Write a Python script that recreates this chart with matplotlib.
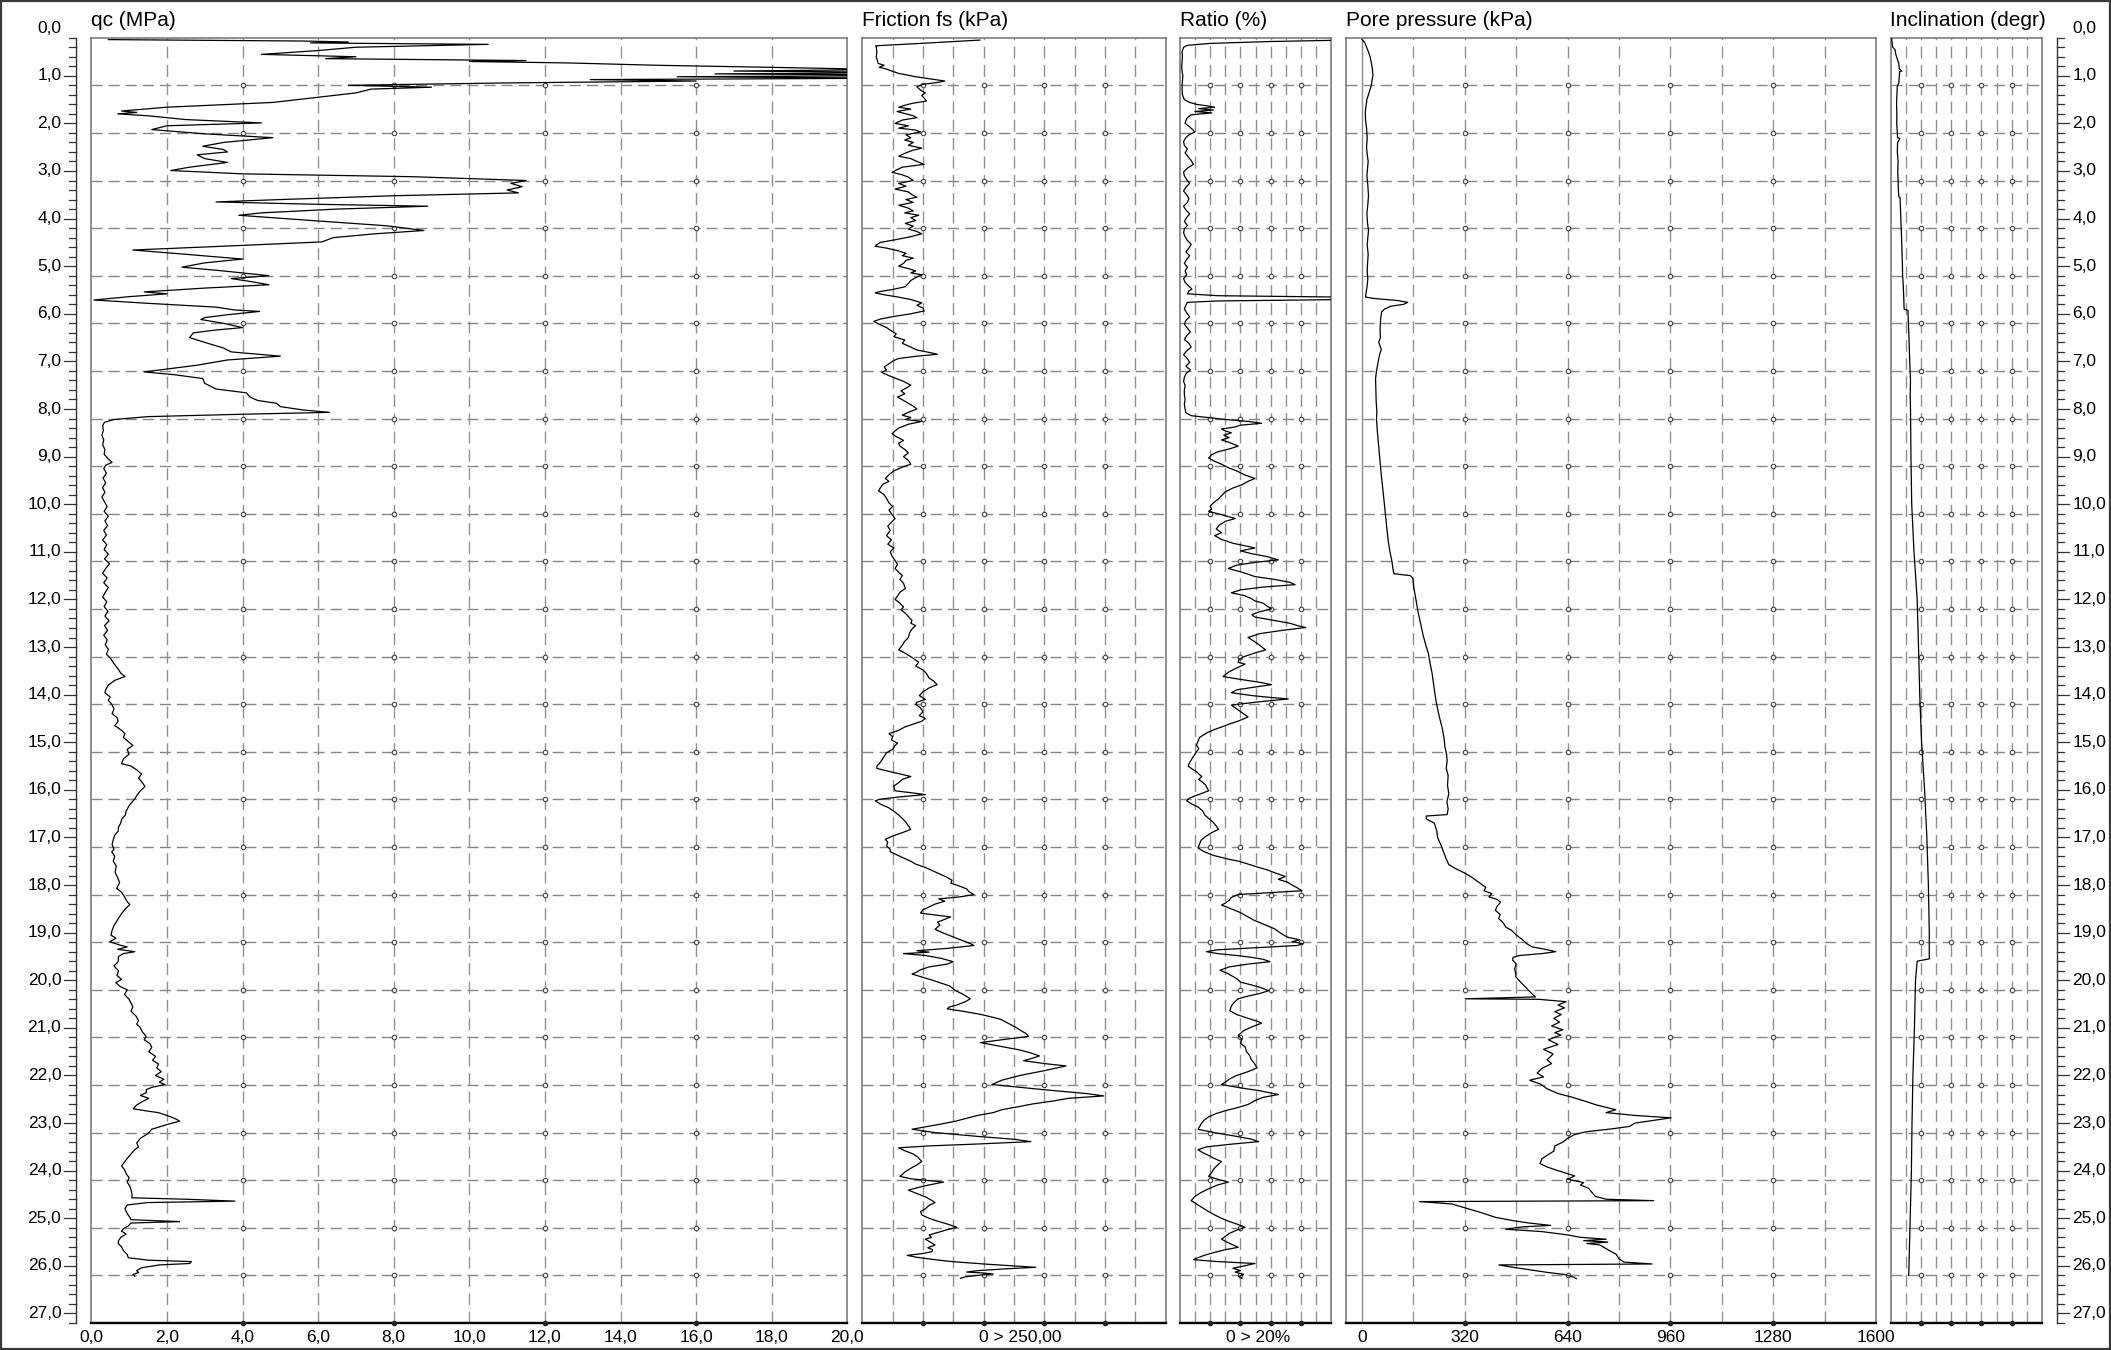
import numpy as np
import matplotlib
matplotlib.use("Agg")
import matplotlib.pyplot as plt
from matplotlib.patches import Rectangle

plt.rcParams['font.family'] = ['Liberation Sans', 'DejaVu Sans']

# ---------------------------------------------------------------- data
# Cone resistance qc (MPa) against depth (m)
qc_depth = [0.24, 0.27, 0.29, 0.31, 0.34, 0.40, 0.47, 0.55, 0.60, 0.64, 0.68, 0.70, 0.73, 0.78,
            0.83, 0.87, 0.90, 0.93, 0.96, 0.99, 1.02, 1.05, 1.08, 1.11, 1.15, 1.20, 1.24, 1.28,
            1.36, 1.45, 1.56, 1.66, 1.74, 1.77, 1.80, 1.84, 1.92, 1.99, 2.05, 2.13, 2.22, 2.30,
            2.40, 2.48, 2.55, 2.60, 2.66, 2.74, 2.82, 2.92, 2.99, 3.06, 3.12, 3.20, 3.26, 3.33,
            3.40, 3.46, 3.52, 3.60, 3.65, 3.70, 3.74, 3.80, 3.88, 3.93, 4.05, 4.15, 4.25, 4.32,
            4.40, 4.49, 4.58, 4.66, 4.75, 4.85, 4.93, 5.02, 5.10, 5.20, 5.26, 5.32, 5.39, 5.46,
            5.54, 5.58, 5.64, 5.71, 5.78, 5.86, 5.92, 5.95, 6.02, 6.08, 6.12, 6.20, 6.29, 6.34,
            6.40, 6.50, 6.60, 6.72, 6.80, 6.89, 6.97, 7.08, 7.22, 7.28, 7.36, 7.46, 7.58, 7.66,
            7.75, 7.82, 7.88, 7.95, 8.02, 8.07, 8.11, 8.16, 8.22, 8.28,
            8.35, 8.45, 8.55, 8.65, 8.75, 8.85, 8.95, 9.05, 9.12, 9.18, 9.25, 9.35, 9.45, 9.55,
            9.65, 9.75, 9.85, 9.95, 10.05, 10.15, 10.25, 10.35, 10.45, 10.55, 10.65, 10.75,
            10.85, 10.95, 11.05, 11.15, 11.25, 11.35, 11.45, 11.55, 11.65, 11.75, 11.85, 11.95,
            12.05, 12.15, 12.25, 12.35, 12.45, 12.55, 12.65, 12.75, 12.85, 12.95, 13.05, 13.15,
            13.25, 13.35, 13.45, 13.55, 13.62, 13.70, 13.80, 13.90, 13.96, 14.05, 14.12, 14.20,
            14.30, 14.40, 14.48, 14.56, 14.65, 14.75, 14.82, 14.90, 15.00, 15.07, 15.15, 15.25,
            15.35, 15.45, 15.50, 15.58, 15.67, 15.75, 15.85, 15.93, 16.02, 16.10, 16.19, 16.28,
            16.36, 16.45, 16.53, 16.62, 16.70, 16.78, 16.87, 16.95, 17.05, 17.15, 17.25, 17.30,
            17.40, 17.50, 17.60, 17.73, 17.85, 17.95, 18.07, 18.15, 18.25, 18.35, 18.41, 18.50,
            18.60, 18.70, 18.76, 18.85, 18.95, 19.05, 19.12, 19.19, 19.26, 19.30, 19.35, 19.40,
            19.44, 19.50, 19.61, 19.70, 19.80, 19.90, 19.98, 20.05, 20.13, 20.20, 20.30, 20.40,
            20.48, 20.56, 20.65, 20.75, 20.85, 20.92, 20.99, 21.08, 21.18, 21.25, 21.33, 21.41,
            21.50, 21.60, 21.68, 21.76, 21.84, 21.92, 22.00, 22.08, 22.14, 22.19, 22.25, 22.30,
            22.36, 22.42, 22.48, 22.55, 22.62, 22.70, 22.75, 22.78, 22.84, 22.90, 22.96, 23.02,
            23.08, 23.13, 23.22, 23.32, 23.42, 23.50, 23.56, 23.65, 23.74, 23.82, 23.90, 23.98,
            24.06, 24.15, 24.24, 24.33, 24.42, 24.52, 24.57, 24.60, 24.64, 24.67, 24.72, 24.80,
            24.90, 24.98, 25.03, 25.07, 25.10, 25.16, 25.22, 25.27, 25.33, 25.40, 25.47, 25.53,
            25.60, 25.68, 25.76, 25.83, 25.88, 25.91, 25.95, 25.98, 26.04, 26.10, 26.14, 26.18,
            26.22]
qc_value = [0.45, 5.6, 6.8, 5.8, 10.5, 7.0, 6.0, 4.5, 7.0, 6.2, 11.5, 10.0, 12.6, 15.0,
            18.5, 21.0, 17.0, 22.0, 16.5, 23.0, 15.5, 21.5, 13.2, 16.0, 11.0, 6.8, 9.0, 7.4,
            7.0, 6.0, 4.8, 2.0, 0.8, 1.2, 0.7, 1.5, 2.5, 4.5, 2.0, 1.6, 3.0, 4.8,
            3.5, 2.95, 3.5, 3.6, 2.8, 3.0, 3.6, 2.6, 2.1, 4.0, 8.5, 11.5, 11.1, 11.4,
            11.0, 11.3, 8.0, 5.0, 3.3, 6.0, 8.9, 6.5, 4.5, 3.9, 6.0, 7.8, 8.8, 7.5,
            6.4, 6.1, 3.5, 1.1, 2.5, 4.0, 3.0, 2.4, 3.5, 4.7, 3.7, 4.2, 4.7, 3.0,
            1.4, 2.0, 1.0, 0.07, 1.5, 3.3, 3.8, 4.45, 3.6, 3.0, 2.9, 3.5, 4.0, 3.3,
            2.7, 2.6, 3.0, 3.5, 3.7, 5.0, 3.6, 2.8, 1.4, 2.2, 2.95, 3.0, 3.3, 4.1,
            4.2, 4.4, 4.9, 5.0, 5.6, 6.3, 4.0, 1.5, 0.6, 0.35,
            0.30, 0.32, 0.28, 0.33, 0.30, 0.36, 0.34, 0.45, 0.55, 0.38, 0.33, 0.40, 0.31, 0.38,
            0.30, 0.36, 0.28, 0.35, 0.42, 0.34, 0.45, 0.36, 0.43, 0.33, 0.40, 0.30,
            0.41, 0.34, 0.45, 0.35, 0.48, 0.38, 0.30, 0.42, 0.33, 0.45, 0.37, 0.30,
            0.41, 0.34, 0.44, 0.36, 0.47, 0.35, 0.43, 0.33, 0.42, 0.37, 0.45, 0.40,
            0.52, 0.60, 0.70, 0.78, 0.89, 0.62, 0.45, 0.38, 0.36, 0.50, 0.45, 0.54,
            0.60, 0.55, 0.68, 0.71, 0.62, 0.80, 0.89, 0.85, 1.00, 1.10, 0.95, 1.00,
            0.85, 0.80, 1.05, 1.20, 1.33, 1.25, 1.35, 1.42, 1.30, 1.22, 1.15, 1.05,
            0.98, 0.92, 0.90, 0.80, 0.78, 0.72, 0.71, 0.62, 0.58, 0.55, 0.60, 0.54,
            0.62, 0.58, 0.66, 0.63, 0.70, 0.75, 0.67, 0.80, 0.88, 0.95, 1.02, 0.90,
            0.80, 0.72, 0.67, 0.60, 0.55, 0.52, 0.65, 0.49, 0.75, 0.95, 0.70, 1.15,
            0.85, 0.72, 0.71, 0.60, 0.72, 0.68, 0.80, 0.65, 0.76, 0.95, 0.88, 1.00,
            1.05, 1.10, 1.05, 1.18, 1.25, 1.20, 1.29, 1.35, 1.45, 1.40, 1.55, 1.60,
            1.52, 1.70, 1.62, 1.78, 1.73, 1.85, 1.70, 1.92, 1.80, 1.95, 1.60, 1.45,
            1.46, 1.30, 1.52, 1.35, 1.20, 1.11, 1.50, 1.77, 2.00, 2.20, 2.34, 2.05,
            1.80, 1.60, 1.50, 1.30, 1.20, 1.25, 1.15, 1.05, 0.95, 0.88, 0.80, 0.88,
            0.92, 1.00, 0.95, 1.02, 1.06, 1.08, 1.07, 2.50, 3.80, 1.50, 0.95, 0.89,
            0.95, 1.02, 1.05, 2.34, 1.05, 0.98, 0.85, 0.80, 0.92, 0.78, 0.72, 0.71,
            0.80, 0.85, 0.95, 0.98, 1.50, 2.65, 2.60, 1.80, 1.33, 1.20, 1.25, 1.10,
            1.15]

# Sleeve friction fs (kPa)
fs_depth = [0.25, 0.31, 0.37, 0.40, 0.50, 0.60, 0.68, 0.74, 0.78, 0.82, 0.86, 0.89, 0.95, 1.02,
            1.08, 1.11, 1.14, 1.18, 1.23, 1.30, 1.36, 1.41, 1.47, 1.53, 1.58, 1.62, 1.66, 1.70,
            1.75, 1.80, 1.84, 1.88, 1.93, 2.00, 2.05, 2.10, 2.14, 2.18, 2.24, 2.30, 2.35, 2.40,
            2.46, 2.52, 2.57, 2.63, 2.69, 2.74, 2.80, 2.86, 2.92, 2.98, 3.03, 3.08, 3.13, 3.20,
            3.26, 3.32, 3.38, 3.44, 3.50, 3.55, 3.60, 3.66, 3.72, 3.78, 3.84, 3.88, 3.93, 3.98,
            4.04, 4.10, 4.16, 4.22, 4.27, 4.32, 4.38, 4.44, 4.50, 4.55, 4.58, 4.62, 4.68, 4.73,
            4.78, 4.83, 4.88, 4.94, 5.00, 5.05, 5.10, 5.14, 5.18, 5.24, 5.30, 5.36, 5.43, 5.49,
            5.53, 5.56, 5.60, 5.65, 5.70, 5.77, 5.82, 5.88, 5.94, 6.00, 6.06, 6.11, 6.16, 6.22,
            6.29, 6.36, 6.42, 6.48, 6.55, 6.62, 6.70, 6.76, 6.81, 6.85, 6.89, 6.94, 6.98, 7.05,
            7.12, 7.18, 7.23, 7.30, 7.36, 7.42, 7.50, 7.56, 7.62, 7.68, 7.75, 7.82, 7.88, 7.94,
            8.00, 8.07, 8.13, 8.18, 8.22, 8.26, 8.32, 8.40, 8.46, 8.52, 8.58, 8.66, 8.72, 8.78,
            8.85, 8.92, 9.00, 9.08, 9.16, 9.22, 9.30, 9.38, 9.46, 9.52, 9.58, 9.65, 9.72, 9.80,
            9.88, 9.97, 10.05, 10.12, 10.20, 10.30, 10.38, 10.46, 10.55, 10.66, 10.75, 10.84,
            10.92, 11.00, 11.09, 11.18, 11.26, 11.35, 11.43, 11.50, 11.58, 11.66, 11.77, 11.85,
            11.93, 12.00, 12.08, 12.16, 12.22, 12.29, 12.36, 12.44, 12.50, 12.55, 12.62, 12.70,
            12.80, 12.88, 12.96, 13.06, 13.14, 13.22, 13.32, 13.40, 13.48, 13.56, 13.65, 13.72,
            13.79, 13.86, 13.94, 14.02, 14.10, 14.16, 14.20, 14.28, 14.36, 14.44, 14.50, 14.56,
            14.62, 14.68, 14.75, 14.82, 14.88, 14.95, 15.02, 15.07, 15.15, 15.22, 15.30, 15.38,
            15.45, 15.50, 15.55, 15.60, 15.66, 15.72, 15.78, 15.85, 15.92, 16.02, 16.06, 16.10,
            16.15, 16.20, 16.23, 16.30, 16.38, 16.45, 16.53, 16.60, 16.68, 16.76, 16.83, 16.90,
            16.97, 17.04, 17.10, 17.18, 17.25, 17.30, 17.36, 17.42, 17.50, 17.56, 17.63, 17.70,
            17.77, 17.84, 17.90, 17.96, 18.02, 18.08, 18.14, 18.20, 18.25, 18.29, 18.34, 18.40,
            18.46, 18.52, 18.59, 18.63, 18.67, 18.72, 18.78, 18.84, 18.93, 19.00, 19.06, 19.12,
            19.18, 19.24, 19.27, 19.33, 19.38, 19.41, 19.44, 19.48, 19.54, 19.61, 19.66, 19.72,
            19.78, 19.84, 19.87, 19.94, 20.00, 20.06, 20.12, 20.18, 20.22, 20.28, 20.34, 20.39,
            20.45, 20.52, 20.56, 20.60, 20.66, 20.72, 20.78, 20.82, 20.90, 20.98, 21.06, 21.12,
            21.18, 21.25, 21.31, 21.38, 21.46, 21.52, 21.59, 21.64, 21.69, 21.75, 21.80, 21.90,
            22.00, 22.10, 22.19, 22.30, 22.38, 22.43, 22.48, 22.53, 22.60, 22.66, 22.72, 22.78,
            22.84, 22.90, 22.96, 23.02, 23.08, 23.13, 23.20, 23.28, 23.34, 23.39, 23.44, 23.48,
            23.52, 23.58, 23.65, 23.72, 23.81, 23.88, 23.95, 24.03, 24.08, 24.12, 24.17, 24.21,
            24.24, 24.30, 24.36, 24.41, 24.48, 24.55, 24.62, 24.67, 24.73, 24.80, 24.86, 24.93,
            25.00, 25.06, 25.12, 25.19, 25.24, 25.30, 25.35, 25.40, 25.44, 25.50, 25.56, 25.62,
            25.66, 25.70, 25.74, 25.78, 25.82, 25.87, 25.91, 25.96, 26.00, 26.03, 26.06, 26.10,
            26.13, 26.15, 26.17, 26.20, 26.23, 26.26]
fs_value = [97, 55, 11, 11.5, 12, 11.5, 12.5, 13, 18, 14, 20, 23, 30, 44,
            60, 68, 62, 50, 45, 48, 52, 49, 51, 53, 41, 35, 30, 40,
            28.6, 36, 42, 45, 33, 27, 38, 30, 44, 48, 36, 40, 35, 42,
            38, 49, 41, 35, 30, 40, 45, 51, 33, 28, 24.5, 33, 38, 42,
            30, 36, 27, 38, 41, 45, 36, 42, 30, 38, 42, 35, 46.5, 40,
            44, 35.5, 42, 38, 45, 49, 40, 28, 15, 12, 10.7, 20, 30, 36,
            33, 42, 36, 34, 30, 38, 44, 40, 49, 44, 40, 38, 35.5, 25,
            15, 10.7, 18, 30, 40, 49, 45, 50, 51, 40, 25, 15, 9.4, 14,
            20, 24, 28, 26, 35, 33, 40, 45, 55, 62, 45, 30, 26, 22,
            18, 20, 16, 22, 28, 34, 40, 36, 32, 35, 29, 34, 38, 42,
            45, 38, 33, 40, 35.5, 49, 38, 30, 27, 24.5, 28, 34, 30, 31,
            35, 38, 34, 38, 40, 33, 26, 22, 19, 22, 17, 15, 13.5, 18,
            20, 22, 25, 22, 24, 27, 24, 21, 23, 20, 24, 21,
            26, 23, 24.5, 27, 29, 27, 30, 33, 31, 34, 35.5, 31,
            29, 27, 31, 34, 32, 35.5, 38, 41, 40, 44, 41, 39,
            38, 35, 33, 30, 36, 41, 46.5, 44, 50, 53, 55, 59,
            61.7, 55, 50, 47, 52, 45, 44, 48, 50, 47, 52, 49,
            42, 35, 30, 22, 25, 24, 29, 27, 25, 20, 18, 16,
            14, 12, 12, 20, 30, 40, 33, 30, 26, 27, 40, 52,
            30, 14, 10.7, 15, 22, 26, 30, 33, 36, 38, 40, 33,
            25, 19, 21, 20, 23, 23, 28, 33, 40, 44, 52, 58,
            64, 70, 74, 73, 80, 86, 88, 92, 80, 63, 68, 60,
            55, 50, 48, 60, 72.7, 68, 62, 64, 60, 66, 72, 78,
            84, 90, 92, 70, 45, 55, 34, 52, 65, 75, 70, 55,
            48, 44, 41, 50, 58, 65, 72, 75, 77, 82, 86, 89,
            85, 78, 72, 70, 85, 98, 108, 114, 120, 126, 131, 135,
            137, 115, 97.5, 112, 129, 138, 146, 140, 133, 150, 168, 150,
            130, 115, 107, 150, 185, 199, 170, 159, 140, 128, 115, 108,
            95, 86, 77, 65, 52, 41, 60, 95, 125, 139, 95, 55,
            30, 35, 42, 46, 49, 45, 40, 35, 33, 31, 40, 55,
            67, 55, 45, 38, 45, 52, 57, 60, 55, 52, 48, 49,
            55, 62, 70, 78, 70, 62, 55, 57, 52, 56, 60, 54,
            58, 57.5, 50, 37, 45, 60, 74, 100, 125, 143, 120, 95,
            86, 100, 108, 95, 85, 81]

# Friction ratio Rf (%)
rf_depth = [0.22, 0.25, 0.28, 0.32, 0.36, 0.40, 0.50, 0.60, 0.70, 0.80, 0.90, 1.00, 1.10, 1.20,
            1.30, 1.40, 1.50, 1.56, 1.60, 1.63, 1.66, 1.69, 1.72, 1.75, 1.78, 1.82, 1.88, 1.94,
            2.00, 2.06, 2.12, 2.18, 2.24, 2.30, 2.38, 2.46, 2.54, 2.62, 2.70, 2.78, 2.86, 2.94,
            3.02, 3.10, 3.18, 3.26, 3.34, 3.42, 3.50, 3.58, 3.66, 3.74, 3.82, 3.90, 3.98, 4.06,
            4.14, 4.22, 4.30, 4.38, 4.46, 4.54, 4.62, 4.70, 4.78, 4.86, 4.94, 5.02, 5.10, 5.18,
            5.26, 5.34, 5.42, 5.48, 5.52, 5.58, 5.62, 5.65, 5.70, 5.73, 5.76, 5.82, 5.90, 5.98,
            6.06, 6.14, 6.22, 6.30, 6.38, 6.46, 6.54, 6.62, 6.70, 6.78, 6.86, 6.94, 7.02, 7.10,
            7.18, 7.26, 7.34, 7.42, 7.50, 7.60, 7.70, 7.80, 7.90, 8.00, 8.08, 8.14, 8.18, 8.22,
            8.26, 8.30, 8.34, 8.38, 8.42, 8.46, 8.50, 8.55, 8.60, 8.65, 8.70, 8.78, 8.84, 8.90,
            8.96, 9.03, 9.10, 9.16, 9.24, 9.30, 9.38, 9.46, 9.52, 9.59, 9.66, 9.74, 9.82, 9.89,
            9.96, 10.04, 10.10, 10.15, 10.22, 10.30, 10.36, 10.44, 10.52, 10.60, 10.66, 10.74,
            10.82, 10.88, 10.92, 10.98, 11.04, 11.10, 11.17, 11.22, 11.28, 11.35, 11.42, 11.48,
            11.52, 11.58, 11.64, 11.69, 11.74, 11.80, 11.86, 11.92, 11.98, 12.03, 12.08, 12.14,
            12.20, 12.26, 12.32, 12.37, 12.43, 12.50, 12.55, 12.59, 12.65, 12.72, 12.80, 12.88,
            12.96, 13.06, 13.12, 13.20, 13.26, 13.32, 13.36, 13.44, 13.52, 13.62, 13.68, 13.74,
            13.79, 13.85, 13.90, 13.96, 14.02, 14.06, 14.09, 14.15, 14.22, 14.30, 14.38, 14.47,
            14.55, 14.62, 14.68, 14.73, 14.80, 14.86, 14.90, 14.98, 15.06, 15.14, 15.20, 15.25,
            15.32, 15.40, 15.46, 15.50, 15.56, 15.62, 15.68, 15.72, 15.78, 15.84, 15.90, 15.96,
            16.02, 16.08, 16.14, 16.18, 16.23, 16.30, 16.36, 16.44, 16.53, 16.60, 16.68, 16.76,
            16.83, 16.90, 16.98, 17.06, 17.14, 17.22, 17.30, 17.38, 17.46, 17.50, 17.56, 17.62,
            17.68, 17.74, 17.82, 17.88, 17.94, 18.00, 18.06, 18.12, 18.16, 18.20, 18.26, 18.32,
            18.38, 18.42, 18.50, 18.58, 18.67, 18.74, 18.84, 18.92, 19.00, 19.06, 19.10, 19.15,
            19.19, 19.23, 19.27, 19.30, 19.33, 19.36, 19.40, 19.44, 19.48, 19.52, 19.56, 19.61,
            19.66, 19.72, 19.79, 19.85, 19.92, 19.98, 20.04, 20.10, 20.16, 20.22, 20.28, 20.34,
            20.39, 20.46, 20.54, 20.64, 20.72, 20.80, 20.86, 20.90, 20.98, 21.06, 21.16, 21.24,
            21.32, 21.40, 21.50, 21.58, 21.66, 21.74, 21.84, 21.92, 22.00, 22.08, 22.14, 22.19,
            22.26, 22.32, 22.37, 22.40, 22.46, 22.52, 22.61, 22.68, 22.74, 22.80, 22.87, 22.94,
            23.02, 23.08, 23.13, 23.20, 23.28, 23.34, 23.39, 23.44, 23.50, 23.56, 23.62, 23.68,
            23.74, 23.81, 23.88, 23.96, 24.04, 24.12, 24.18, 24.24, 24.30, 24.38, 24.46, 24.54,
            24.63, 24.70, 24.78, 24.86, 24.93, 25.00, 25.06, 25.12, 25.19, 25.25, 25.32, 25.38,
            25.44, 25.50, 25.56, 25.61, 25.66, 25.72, 25.78, 25.84, 25.87, 25.91, 25.95, 26.00,
            26.05, 26.10, 26.13, 26.18, 26.22, 26.26]
rf_value = [22, 22, 12, 4, 1.0, 0.5, 0.3, 0.35, 0.3, 0.25, 0.3, 0.4, 0.35, 0.3,
            0.3, 0.35, 0.6, 1.3, 2.2, 3.5, 4.6, 2.5, 4.4, 2.0, 4.2, 1.5, 1.0, 0.8,
            0.7, 1.2, 1.6, 2.0, 1.2, 0.8, 0.5, 0.6, 1.0, 0.7, 1.1, 1.5, 1.8, 1.0,
            0.5, 0.6, 0.9, 1.3, 0.8, 0.5, 0.9, 1.2, 1.0, 0.5, 0.8, 1.3, 0.9, 0.6,
            1.0, 0.6, 0.5, 0.7, 1.0, 1.5, 1.2, 0.8, 1.3, 0.9, 0.6, 1.0, 0.7, 0.9,
            0.5, 0.7, 1.2, 1.6, 1.2, 1.0, 5, 22, 22, 5, 1.0, 0.8, 0.6, 0.9,
            1.3, 0.8, 0.6, 1.0, 1.4, 0.9, 0.6, 1.2, 1.5, 0.9, 0.5, 1.0, 1.3, 0.8,
            1.4, 0.8, 0.6, 0.5, 0.7, 0.6, 0.6, 0.7, 0.6, 0.7, 0.8, 1.5, 3.8, 6.0,
            9.0, 10.8, 8.0, 7.2, 5.5, 6.0, 6.8, 5.8, 6.5, 5.5, 6.5, 7.7, 6.5, 5.0,
            4.2, 3.8, 4.6, 5.5, 6.5, 7.5, 8.5, 9.9, 9.0, 8.2, 7.0, 6.0, 5.5, 5.1,
            4.5, 4.0, 4.2, 3.8, 5.5, 7.3, 6.0, 5.2, 4.8, 5.5, 4.6, 5.5,
            7.0, 8.8, 9.9, 8.0, 9.5, 11.5, 13.0, 10.0, 7.5, 6.4, 8.0, 9.2,
            9.9, 12.5, 14.5, 15.2, 11.0, 8.0, 6.8, 8.5, 9.4, 9.9, 11.0, 11.5,
            12.1, 10.5, 9.5, 9.9, 12.0, 14.5, 15.5, 16.6, 13.5, 10.5, 9.0, 9.8,
            10.5, 11.3, 10.0, 8.5, 7.8, 7.7, 8.6, 7.5, 6.5, 5.7, 8.0, 10.5,
            12.1, 9.5, 7.5, 6.8, 9.5, 12.0, 14.3, 10.5, 6.8, 7.5, 8.2, 9.0,
            7.8, 6.5, 5.5, 4.6, 3.6, 3.0, 2.6, 2.4, 2.2, 2.5, 2.2, 2.0,
            1.7, 1.4, 1.2, 1.1, 1.6, 2.2, 2.6, 2.9, 2.5, 3.0, 3.4, 3.6,
            3.8, 2.8, 1.8, 1.2, 0.9, 1.6, 2.4, 3.0, 3.3, 3.8, 4.4, 4.8,
            5.1, 4.2, 3.4, 2.8, 2.6, 2.4, 3.2, 4.5, 6.5, 7.8, 9.0, 10.2,
            11.5, 12.5, 13.9, 13.0, 14.2, 14.8, 15.5, 16.1, 12.0, 7.7, 6.8, 6.5,
            6.0, 5.5, 6.8, 8.0, 9.0, 9.8, 11.3, 12.5, 13.2, 13.8, 14.3, 15.8,
            14.8, 16.2, 15.5, 12.0, 8.5, 5.0, 3.5, 5.0, 7.5, 9.5, 11.0, 11.9,
            9.0, 6.5, 5.3, 6.2, 7.0, 7.6, 8.0, 9.5, 10.8, 11.7, 10.5, 8.8,
            7.7, 7.2, 6.8, 6.6, 7.5, 9.0, 10.2, 10.8, 9.5, 8.4, 7.7, 8.2,
            8.0, 8.6, 8.8, 9.2, 9.4, 9.8, 10.2, 9.0, 7.5, 6.5, 6.0, 5.5,
            8.0, 10.5, 12.0, 13.0, 11.0, 10.0, 9.0, 7.5, 6.0, 4.8, 3.8, 3.2,
            2.8, 2.6, 2.4, 4.5, 7.5, 9.5, 10.4, 7.0, 3.5, 2.4, 3.0, 3.8,
            4.5, 5.5, 5.0, 4.5, 4.2, 3.8, 5.0, 6.4, 5.0, 3.8, 2.8, 2.0,
            1.5, 2.2, 3.0, 3.8, 4.6, 5.5, 6.4, 7.5, 8.6, 7.5, 6.5, 6.0,
            5.5, 6.2, 7.0, 7.7, 6.0, 4.5, 3.2, 2.2, 1.8, 5.0, 9.9, 8.5,
            7.0, 8.0, 7.3, 8.4, 7.8, 8.2]

# Pore pressure u2 (kPa)
u_depth = [0.24, 0.30, 0.38, 0.50, 0.60, 0.73, 0.85, 0.99, 1.10, 1.20, 1.35, 1.50, 1.65, 1.78,
           1.95, 2.10, 2.30, 2.50, 2.65, 2.80, 2.95, 3.10, 3.30, 3.52, 3.70, 3.90, 4.10, 4.25,
           4.39, 4.55, 4.75, 4.95, 5.10, 5.27, 5.45, 5.58, 5.65, 5.68, 5.72, 5.76, 5.80, 5.84,
           5.90, 5.96, 6.10, 6.31, 6.50, 6.60, 6.75, 6.85, 7.01, 7.20, 7.36, 7.60, 7.85, 8.05,
           8.23, 8.50, 8.80, 9.10, 9.40, 9.80, 10.10, 10.50, 10.80, 11.00, 11.20, 11.35, 11.46,
           11.50, 11.55, 11.70, 11.90, 12.10, 12.25, 12.50, 12.75, 12.95, 13.12, 13.35, 13.55,
           13.75, 13.99, 14.20, 14.45, 14.69, 14.90, 15.10, 15.25, 15.39, 15.55, 15.70, 15.90,
           16.09, 16.25, 16.40, 16.52, 16.55, 16.61, 16.70, 16.87, 17.00, 17.15, 17.31, 17.45,
           17.57, 17.65, 17.75, 17.83, 17.95, 18.05, 18.12, 18.18, 18.25, 18.30, 18.36, 18.45,
           18.53, 18.62, 18.70, 18.80, 18.88, 18.95, 19.05, 19.15, 19.23, 19.30, 19.35, 19.40,
           19.44, 19.48, 19.52, 19.58, 19.66, 19.76, 19.85, 19.93, 20.05, 20.15, 20.28, 20.35,
           20.39, 20.40, 20.43, 20.45, 20.52, 20.58, 20.66, 20.72, 20.80, 20.88, 20.96, 21.04,
           21.10, 21.15, 21.25, 21.35, 21.45, 21.55, 21.67, 21.75, 21.85, 21.95, 22.03, 22.10,
           22.18, 22.28, 22.38, 22.45, 22.54, 22.62, 22.72, 22.78, 22.84, 22.89, 22.95, 23.00,
           23.07, 23.12, 23.18, 23.24, 23.32, 23.40, 23.48, 23.59, 23.66, 23.75, 23.85, 23.92,
           24.00, 24.11, 24.18, 24.25, 24.30, 24.37, 24.45, 24.54, 24.60, 24.63, 24.65, 24.70,
           24.80, 24.88, 24.98, 25.05, 25.10, 25.15, 25.18, 25.23, 25.28, 25.35, 25.40, 25.44,
           25.47, 25.50, 25.53, 25.56, 25.60, 25.68, 25.75, 25.85, 25.92, 25.96, 25.98, 26.02,
           26.08, 26.14, 26.18, 26.24, 26.27]
u_value = [0, 8, 13, 20, 25, 29, 32, 34, 31, 29, 22, 15, 12, 10,
           11, 14, 16, 14, 16, 19, 17, 15, 18, 20, 18, 15, 17, 20,
           18, 16, 19, 17, 16, 18, 15, 12, 11, 40, 110, 142, 130, 90,
           70, 61, 58, 56, 57, 52, 60, 55, 50, 45, 42, 43, 44, 46,
           45, 48, 52, 56, 60, 66.5, 71, 77, 82, 87, 93, 96, 99,
           150, 158, 160, 165, 170, 174, 182, 190, 198, 206, 212, 218,
           222, 227, 232, 240, 249, 255, 258, 263, 265, 262, 268, 266,
           270, 264, 268, 265, 200, 200, 225, 233, 235, 245, 254, 262,
           270, 290, 320, 340, 365, 385, 380, 404, 395, 420, 431, 420,
           415, 430, 425, 440, 447, 465, 480, 500, 512, 530, 570, 603,
           560, 490, 470, 469, 480, 475, 478, 479, 495, 510, 528, 540,
           321, 549, 600, 635, 610, 630, 600, 620, 597, 615, 590, 625,
           600, 619, 580, 610, 565, 595, 576, 590, 560, 545, 565, 522,
           555, 576, 610, 650, 694, 730, 790, 760, 850, 962, 900, 850,
           833, 780, 700, 662, 640, 625, 600, 597, 580, 560, 554, 575,
           610, 662, 640, 690, 680, 705, 715, 726, 760, 908, 179, 280,
           330, 370, 415, 470, 520, 587, 500, 447, 560, 640, 680, 760,
           690, 765, 700, 740, 750, 770, 790, 800, 815, 903, 426, 460,
           520, 580, 630, 660, 667]

# Inclination (degrees)
inc_depth = [0.22, 0.30, 0.40, 0.45, 0.55, 0.65, 0.75, 0.85, 0.90, 0.92, 0.95, 1.05, 1.15, 1.22,
             1.40, 1.60, 1.80, 2.00, 2.20, 2.30, 2.32, 2.40, 2.60, 2.80, 3.00, 3.20, 3.40, 3.54,
             3.56, 3.80, 4.00, 4.30, 4.60, 4.90, 5.20, 5.40, 5.70, 5.90, 5.93, 6.20, 6.50, 6.80,
             7.10, 7.40, 7.70, 8.00, 9.00, 10.00, 11.00, 12.00, 13.00, 14.00, 15.00, 16.00,
             17.00, 18.00, 19.00, 19.55, 19.60, 20.00, 21.00, 22.00, 23.00, 24.00, 25.00,
             26.00, 26.20]
inc_value = [0.08, 0.10, 0.15, 0.30, 0.35, 0.45, 0.55, 0.58, 0.75, 0.58, 0.60, 0.57, 0.55, 0.45,
             0.42, 0.40, 0.42, 0.41, 0.45, 0.47, 0.62, 0.47, 0.45, 0.50, 0.48, 0.50, 0.52, 0.55,
             0.63, 0.66, 0.68, 0.72, 0.75, 0.78, 0.80, 0.84, 0.88, 0.90, 1.15, 1.18, 1.22, 1.25,
             1.28, 1.32, 1.30, 1.32, 1.35, 1.40, 1.55, 1.76, 1.85, 1.93, 2.05, 2.25,
             2.40, 2.50, 2.56, 2.56, 1.76, 1.65, 1.58, 1.48, 1.42, 1.38, 1.30,
             1.22, 1.20]

depth_labels = [f"{d},0" for d in range(0, 28)]
qc_ticks = [0, 2, 4, 6, 8, 10, 12, 14, 16, 18, 20]
qc_ticklabels = ["0,0", "2,0", "4,0", "6,0", "8,0", "10,0", "12,0", "14,0", "16,0", "18,0", "20,0"]
u_ticks = [0, 320, 640, 960, 1280, 1600]
u_ticklabels = ["0", "320", "640", "960", "1280", "1600"]
titles = ["qc (MPa)", "Friction fs (kPa)", "Ratio (%)", "Pore pressure (kPa)", "Inclination (degr)"]

# ---------------------------------------------------------------- layout
W, H = 2111, 1350
TOP, BOT = 37.7, 1323.0          # pixel rows of the track frames
D_TOP, D_BOT = 0.2, 27.2         # depth range of the track frames (m)
grid_depths = [k + 0.2 for k in range(1, 27)]

fig = plt.figure(figsize=(W / 100, H / 100), dpi=100)
fig.patch.set_facecolor("white")
fig.patches.append(Rectangle((0.0005, 0.0008), 0.999, 0.9985, transform=fig.transFigure,
                             fill=False, edgecolor="#3a3a3a", lw=1.6))

GRID_H = dict(color="#858585", lw=1.0, ls=(0, (8.0, 4.3)), zorder=1)
GRID_V = dict(color="#8f8f8f", lw=1.0, ls=(0, (8.6, 4.6)), zorder=1)
MARK = dict(ls="none", marker="o", ms=3.2, mfc="white", mec="#4a4a4a", mew=0.85,
            zorder=2, clip_on=False)


def track(x0, x1, xlim, vlines, marks, title):
    ax = fig.add_axes([x0 / W, 1 - BOT / H, (x1 - x0) / W, (BOT - TOP) / H])
    ax.set_xlim(*xlim)
    ax.set_ylim(D_BOT, D_TOP)
    ax.set_xticks([])
    ax.set_yticks([])
    for s in ("left", "right", "top"):
        ax.spines[s].set_color("#707070")
        ax.spines[s].set_linewidth(1.1)
    ax.spines["bottom"].set_color("black")
    ax.spines["bottom"].set_linewidth(1.7)
    for d in grid_depths:
        ax.axhline(d, **GRID_H)
    for x in vlines:
        ax.axvline(x, **GRID_V)
    for d in grid_depths:
        ax.plot(marks, [d] * len(marks), **MARK)
    ax.plot(marks, [D_BOT] * len(marks), ls="none", marker="o", ms=3.0, mfc="#222",
            mec="#222", zorder=4, clip_on=False)
    fig.text(x0 / W, 1 - 20.5 / H, title, ha="left", va="center", fontsize=15)
    return ax


LINE = dict(color="black", lw=0.9, zorder=3)

ax_qc = track(91.3, 847.3, (0, 20), list(range(2, 20, 2)), [4, 8, 12, 16], titles[0])
ax_qc.plot(qc_value, qc_depth, **LINE)

ax_fs = track(862.3, 1165.5, (0, 250), list(range(25, 250, 25)), [50, 100, 150, 200], titles[1])
ax_fs.plot(fs_value, fs_depth, **LINE)

ax_rf = track(1179.8, 1331.5, (0, 20), list(range(2, 20, 2)), [4, 8, 12, 16], titles[2])
ax_rf.plot(rf_value, rf_depth, **LINE)

ax_u = track(1346.0, 1876.0, (-50, 1600), list(range(160, 1600, 160)), [320, 640, 960, 1280], titles[3])
ax_u.axvline(0, color="#8a8a8a", lw=1.0, zorder=1)
ax_u.plot(u_value, u_depth, **LINE)

ax_inc = track(1890.5, 2042.0, (0, 10), list(range(1, 10)), [2, 4, 6, 8], titles[4])
ax_inc.plot(inc_value, inc_depth, **LINE)

# bottom scale labels
LBL_Y = 1 - 1337 / H
for v, t in zip(qc_ticks, qc_ticklabels):
    fig.text((91.3 + v * 37.8) / W, LBL_Y, t, ha="center", va="center", fontsize=12.5)
fig.text(1020 / W, LBL_Y, "0 > 250,00", ha="center", va="center", fontsize=12.5)
fig.text(1258 / W, LBL_Y, "0 > 20%", ha="center", va="center", fontsize=12.5)
for v, t in zip(u_ticks, u_ticklabels):
    x = ax_u.transData.transform((v, 1))[0] / fig.dpi / fig.get_figwidth()
    fig.text(x, LBL_Y, t, ha="center", va="center", fontsize=12.5)


# depth scales on both sides
def depth_scale(x_line, side):
    w = 40
    left = x_line - w if side == "left" else x_line
    ax = fig.add_axes([left / W, 1 - BOT / H, w / W, (BOT - TOP) / H])
    ax.set_xlim((-w, 0) if side == "left" else (0, w))
    ax.set_ylim(D_BOT, D_TOP)
    ax.axis("off")
    sgn = -1 if side == "left" else 1
    ax.plot([0, 0], [D_TOP, D_BOT], color="#333333", lw=1.0, clip_on=False)
    for k in range(1, 137):
        d = round(k * 0.2, 1)
        major = abs(d - round(d)) < 1e-6
        ln = 12 if major else 7
        ax.plot([0, sgn * ln], [d, d], color="#333333", lw=0.9, clip_on=False)
    for k, lab in enumerate(depth_labels):
        ax.text(sgn * 15, k, lab, ha="right" if side == "left" else "left",
                va="center", fontsize=12.5, clip_on=False)


depth_scale(76.3, "left")
depth_scale(2057.3, "right")

fig.savefig("out.png", dpi=100, facecolor="white")
